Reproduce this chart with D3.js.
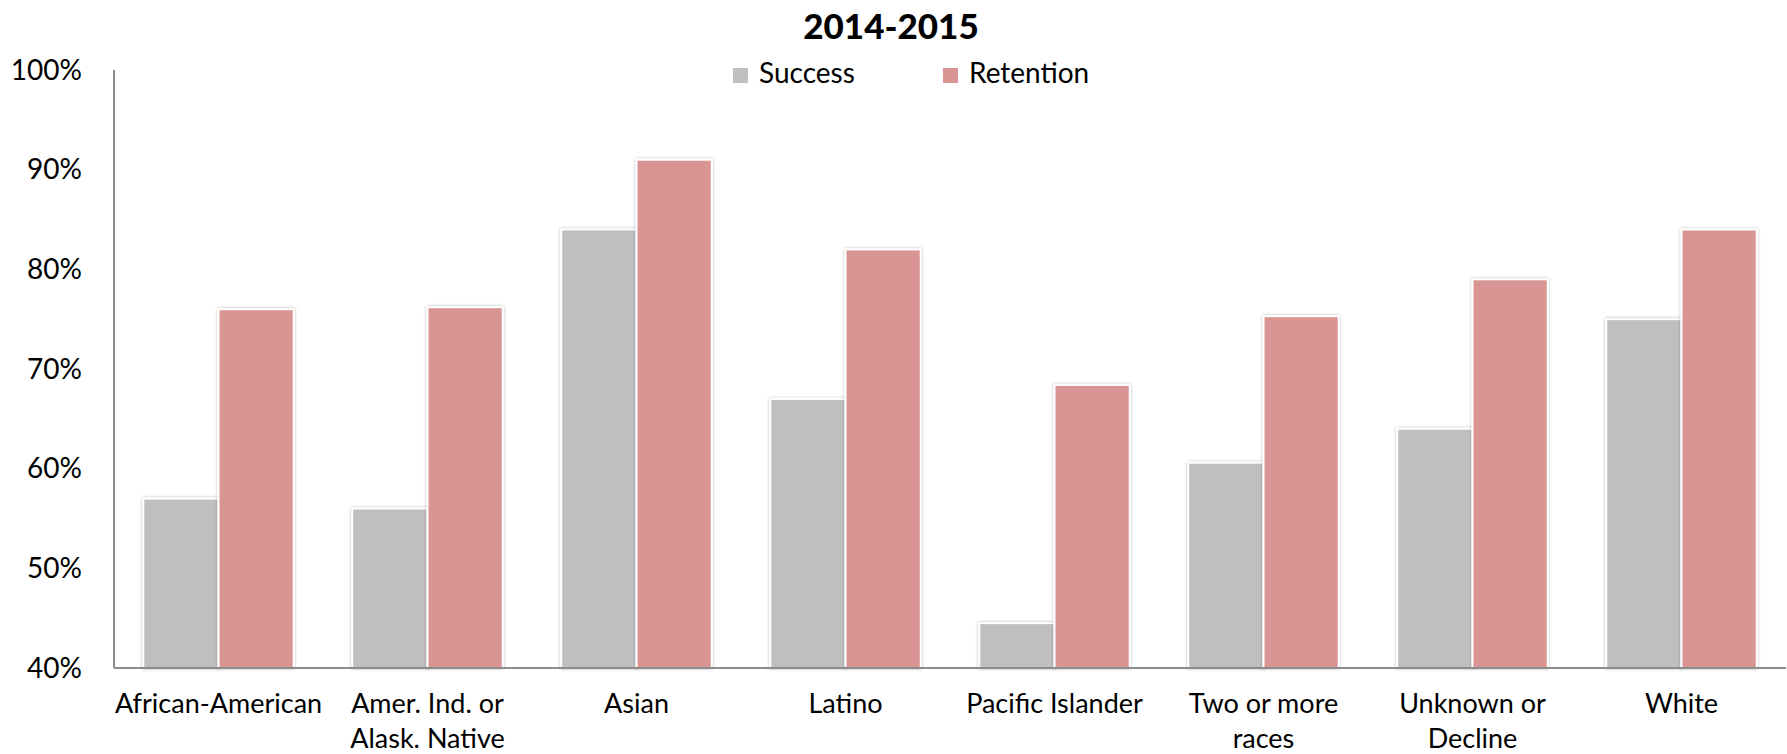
<!DOCTYPE html>
<html>
<head>
<meta charset="utf-8">
<script src="https://cdn.jsdelivr.net/npm/d3@7"></script>
<style>
body { margin: 0; background: #fff; }
text { font-family: Lato, "Liberation Sans", sans-serif; fill: #000; }
</style>
</head>
<body>
<script>
var categories = ["African-American", "Amer. Ind. or Alask. Native", "Asian", "Latino",
  "Pacific Islander", "Two or more races", "Unknown or Decline", "White"];
var categoryLines = [["African-American"], ["Amer. Ind. or", "Alask. Native"], ["Asian"], ["Latino"],
  ["Pacific Islander"], ["Two or more", "races"], ["Unknown or", "Decline"], ["White"]];
var seriesNames = ["Success", "Retention"];
var success = [57, 56, 84, 67, 44.5, 60.6, 64, 75];
var retention = [76, 76.2, 91, 82, 68.4, 75.3, 79, 84];
var yTicks = [40, 50, 60, 70, 80, 90, 100];

var width = 1787, height = 754;
var colors = {"Success": "#bfbfbf", "Retention": "#d99594"};

var svg = d3.select("body").append("svg")
  .attr("width", width)
  .attr("height", height);

var defs = svg.append("defs");
var shadow = defs.append("filter").attr("id", "shadow")
  .attr("x", "-20%").attr("y", "-5%").attr("width", "140%").attr("height", "110%");
shadow.append("feDropShadow")
  .attr("dx", 0).attr("dy", 0)
  .attr("stdDeviation", 1.8)
  .attr("flood-color", "#000")
  .attr("flood-opacity", 0.3);

var x0 = d3.scaleBand().domain(categories).range([114, 1786]).paddingInner(0.28).paddingOuter(0.14);
var x1 = d3.scaleBand().domain(seriesNames).range([0, x0.bandwidth()]);
var y = d3.scaleLinear().domain([40, 100]).range([668, 70]);

var rows = categories.map(function(c, i) {
  return {cat: c, values: [{key: "Success", v: success[i]}, {key: "Retention", v: retention[i]}]};
});

// bars
var groups = svg.selectAll("g.group")
  .data(rows)
  .enter().append("g")
  .attr("class", "group")
  .attr("transform", d => "translate(" + x0(d.cat) + ",0)");

groups.selectAll("rect")
  .data(d => d.values)
  .enter().append("rect")
  .attr("x", d => x1(d.key))
  .attr("y", d => y(d.v))
  .attr("width", x1.bandwidth())
  .attr("height", d => y(40) - y(d.v))
  .attr("fill", d => colors[d.key])
  .attr("stroke", "#fff")
  .attr("stroke-width", 2)
  .attr("filter", "url(#shadow)");

// axes
svg.append("line")
  .attr("x1", 114).attr("x2", 114)
  .attr("y1", y(100)).attr("y2", y(40))
  .attr("stroke", "#8c8c8c").attr("stroke-width", 2);
svg.append("line")
  .attr("x1", 114).attr("x2", 1786)
  .attr("y1", y(40)).attr("y2", y(40))
  .attr("stroke", "#8c8c8c").attr("stroke-width", 2);

svg.selectAll("text.ytick")
  .data(yTicks)
  .enter().append("text")
  .attr("class", "ytick")
  .attr("x", 82)
  .attr("y", d => y(d))
  .attr("dy", "0.35em")
  .attr("text-anchor", "end")
  .style("font-size", "28px")
  .text(d => d + "%");

var xl = svg.selectAll("text.xlab")
  .data(categories)
  .enter().append("text")
  .attr("class", "xlab")
  .attr("text-anchor", "middle")
  .style("font-size", "27px");
xl.each(function(d, i) {
  var t = d3.select(this);
  categoryLines[i].forEach(function(line, j) {
    t.append("tspan")
      .attr("x", x0(d) + x0.bandwidth() / 2)
      .attr("y", 713 + j * 35)
      .text(line);
  });
});

// title
svg.append("text")
  .attr("x", 891)
  .attr("y", 39)
  .attr("text-anchor", "middle")
  .style("font-size", "35px")
  .style("font-weight", "900")
  .text("2014-2015");

// legend
var legendX = [733, 943];
var legend = svg.selectAll("g.legend")
  .data(seriesNames)
  .enter().append("g")
  .attr("class", "legend")
  .attr("transform", (d, i) => "translate(" + legendX[i] + ",68)");
legend.append("rect")
  .attr("width", 15).attr("height", 15)
  .attr("fill", d => colors[d]);
legend.append("text")
  .attr("x", 26)
  .attr("y", 15)
  .style("font-size", "28px")
  .text(d => d);
</script>
</body>
</html>
